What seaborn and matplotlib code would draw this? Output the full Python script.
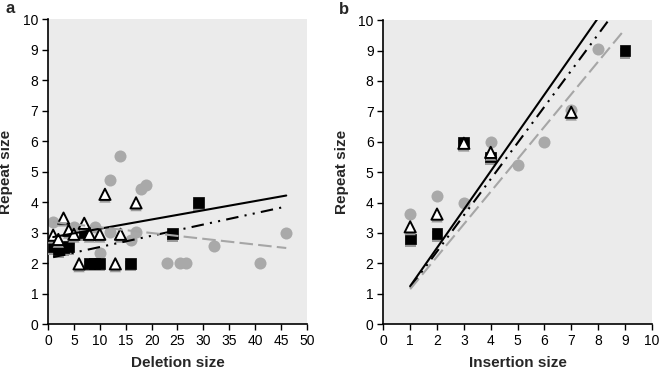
import numpy as np
import pandas as pd
import matplotlib
matplotlib.use('Agg')
import matplotlib.pyplot as plt
import matplotlib.patheffects as pe
import seaborn as sns

sns.set_style('white')
plt.rcParams['font.family'] = ['Liberation Sans', 'DejaVu Sans']

# panel a : deletions
a_circ_x = [1, 5, 9, 10, 12, 12, 14, 16, 17, 18, 19, 23, 25.5, 26.7, 32, 41, 46]
a_circ_y = [3.35, 3.2, 3.2, 2.35, 4.72, 3.04, 5.53, 2.75, 3.03, 4.45, 4.57, 2.02, 2.02, 2.02, 2.55, 2.02, 3.0]
a_sq_x = [1, 2, 3, 4, 7, 8, 9, 10, 16, 24, 29]
a_sq_y = [2.55, 2.45, 2.5, 2.55, 3.0, 2.0, 2.0, 2.0, 2.0, 2.97, 3.98]
a_tri_x = [1, 2, 3, 4, 5, 6, 7, 8, 10, 11, 13, 14, 17]
a_tri_y = [2.92, 2.78, 3.48, 3.08, 2.95, 1.98, 3.31, 2.95, 2.95, 4.26, 1.98, 2.95, 3.98]
# trend lines (endpoints)
a_line_x = [1, 46]
a_solid_y = [2.86, 4.22]
a_dashdot_y = [2.2, 3.86]
a_gray_y = [3.35, 2.5]

# panel b : insertions
b_circ_x = [1, 2, 3, 4, 5, 6, 7, 8]
b_circ_y = [3.62, 4.2, 4.0, 6.0, 5.22, 6.0, 7.05, 9.04]
b_sq_x = [1, 2, 3, 4, 9]
b_sq_y = [2.8, 2.97, 5.97, 5.5, 9.0]
b_tri_x = [1, 2, 3, 4, 7]
b_tri_y = [3.2, 3.62, 5.95, 5.65, 6.97]
b_line_x = [1, 9]
b_solid_y = [1.25, 11.33]
b_dashdot_y = [1.2, 10.72]
b_gray_y = [1.15, 9.7]

bg = '#ebebeb'
circ_col = '#a9a9a9'
shadow = [pe.SimplePatchShadow(offset=(0, -2), shadow_rgbFace='#9a9a9a', alpha=1), pe.Normal()]

fig = plt.figure(figsize=(6.6, 3.73), dpi=100)
ax_a = fig.add_axes([0.0727, 0.1306, 0.3924, 0.818])
ax_b = fig.add_axes([0.5808, 0.131, 0.4067, 0.815])


def panel(ax, cx, cy, sx, sy, tx, ty, lx, solid, dashdot, gray, xmax, xstep, xlabel, letter):
    ax.set_facecolor(bg)
    sns.scatterplot(x=cx, y=cy, ax=ax, color=circ_col, s=75, linewidth=0, zorder=2)
    sns.scatterplot(x=sx, y=sy, ax=ax, color='black', marker='s', s=60,
                    edgecolor='black', linewidth=0.5, zorder=3)
    ax.collections[-1].set_path_effects(shadow)
    sns.scatterplot(x=tx, y=ty, ax=ax, color='white', marker='^', s=65,
                    edgecolor='black', linewidth=1.4, zorder=4)
    ax.collections[-1].set_path_effects(shadow)
    sns.lineplot(x=lx, y=solid, ax=ax, color='black', lw=1.5, zorder=5)
    sns.lineplot(x=lx, y=dashdot, ax=ax, color='black', lw=1.5, zorder=5,
                 linestyle=(0, (6, 3, 1, 3, 1, 3)))
    sns.lineplot(x=lx, y=gray, ax=ax, color='#a6a6a6', lw=1.5, zorder=5,
                 linestyle=(0, (6.5, 2.5)))
    ax.set_xlim(0, xmax)
    ax.set_ylim(0, 10)
    ax.set_xticks(np.arange(0, xmax + xstep, xstep))
    ax.set_yticks(range(0, 11))
    sns.despine(ax=ax)
    for s in ['left', 'bottom']:
        ax.spines[s].set_color('black')
        ax.spines[s].set_linewidth(1.2)
    ax.tick_params(direction='out', length=4, width=1, pad=3, labelsize=10,
                   colors='black', bottom=True, left=True)
    ax.set_xlabel(xlabel, fontsize=11, fontweight='bold', labelpad=6)
    ax.set_ylabel('Repeat size', fontsize=11, fontweight='bold', labelpad=7)
    ax.text(-0.165, 1.01, letter, transform=ax.transAxes, fontsize=12,
            fontweight='bold', va='bottom', ha='left')


panel(ax_a, a_circ_x, a_circ_y, a_sq_x, a_sq_y, a_tri_x, a_tri_y,
      a_line_x, a_solid_y, a_dashdot_y, a_gray_y, 50, 5, 'Deletion size', 'a')
panel(ax_b, b_circ_x, b_circ_y, b_sq_x, b_sq_y, b_tri_x, b_tri_y,
      b_line_x, b_solid_y, b_dashdot_y, b_gray_y, 10, 1, 'Insertion size', 'b')

fig.savefig('out.png', dpi=100)
